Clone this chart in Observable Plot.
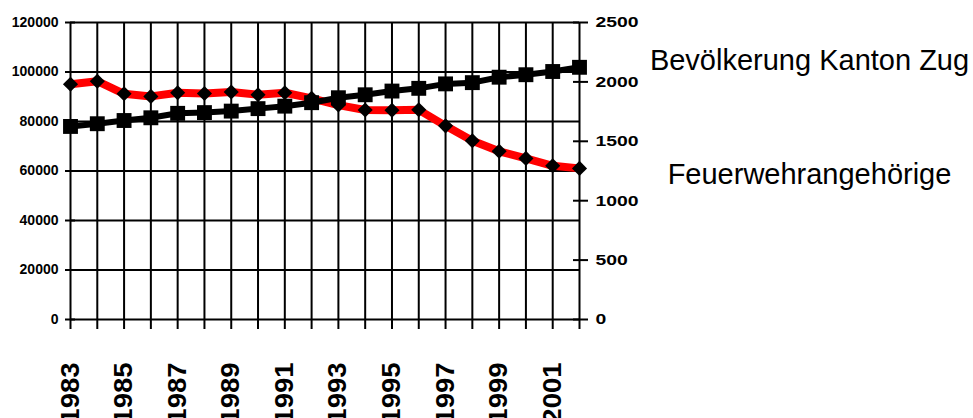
<!DOCTYPE html>
<html><head><meta charset="utf-8">
<script src="https://cdn.jsdelivr.net/npm/d3@7"></script>
<script src="https://cdn.jsdelivr.net/npm/@observablehq/plot@0.6"></script>
<style>
html,body{margin:0;padding:0;background:#fff;}
svg{display:block;}
</style></head><body><div id="chart"></div>
<script>
const years = [1983,1984,1985,1986,1987,1988,1989,1990,1991,1992,1993,1994,1995,1996,1997,1998,1999,2000,2001,2002];
const population = [78000,79100,80400,81500,83300,83600,84200,85200,86200,87600,89600,90800,92300,93400,95200,95700,97900,98900,100200,101900];
const firefighters = [1980,2006,1900,1878,1909,1903,1915,1892,1909,1862,1805,1763,1762,1765,1630,1505,1416,1356,1294,1272];
const leftTicks = [0,20000,40000,60000,80000,100000,120000];
const rightTicks = [0,500,1000,1500,2000,2500];
const yearLabels = [1983,1985,1987,1989,1991,1993,1995,1997,1999,2001];
const seriesNames = ["Bevölkerung Kanton Zug", "Feuerwehrangehörige"];

const k = d3.max(leftTicks) / d3.max(rightTicks);
const rows = years.map((year, i) => ({year, pop: population[i], fw: firefighters[i]}));
const fmt = d3.format("d");
const font = '"Liberation Sans", Arial, sans-serif';

const chart = Plot.plot({
  width: 973, height: 418,
  marginLeft: 70, marginRight: 394, marginTop: 22, marginBottom: 99,
  style: {fontFamily: font, background: "white", color: "black"},
  x: {type: "linear", domain: [years[0], years[years.length - 1]]},
  y: {domain: [0, d3.max(leftTicks)]},
  marks: [
    Plot.gridY(leftTicks, {stroke: "black", strokeOpacity: 1, strokeWidth: 2}),
    Plot.gridX(years, {stroke: "black", strokeOpacity: 1, strokeWidth: 2}),
    Plot.axisY({ticks: leftTicks, tickSize: 5, tickPadding: 7, fontSize: 14, fontWeight: "bold", tickFormat: fmt, strokeWidth: 2, label: null}),
    Plot.axisY({ticks: leftTicks, tickSize: 5, dx: 5, tickFormat: () => "", strokeWidth: 2, label: null}),
    Plot.axisY({anchor: "right", ticks: rightTicks.map(v => v * k), tickFormat: d => fmt(d / k), tickSize: 8, tickPadding: 8, fontSize: 15.5, fontWeight: "bold", strokeWidth: 2, label: null}),
    Plot.axisY({anchor: "right", ticks: rightTicks.map(v => v * k), tickSize: 7, dx: -7, tickFormat: () => "", strokeWidth: 2, label: null}),
    Plot.axisX({ticks: years, tickSize: 10, tickFormat: () => "", strokeWidth: 2, label: null}),
    Plot.axisX({ticks: yearLabels, tickSize: 0, tickPadding: 43, tickRotate: -90, tickFormat: fmt, fontSize: 25, fontWeight: "bold", label: null}),
    Plot.line(rows, {x: "year", y: d => d.fw * k, stroke: "#ff0000", strokeWidth: 8}),
    Plot.line(rows, {x: "year", y: "pop", stroke: "black", strokeWidth: 6}),
    Plot.dot(rows, {x: "year", y: d => d.fw * k, symbol: "diamond2", r: 6.8, fill: "black"}),
    Plot.dot(rows, {x: "year", y: "pop", symbol: "square", r: 8.4, fill: "black"}),
    Plot.text([seriesNames[0]], {frameAnchor: "top-right", text: d => d, dx: 230, dy: 27, fontSize: 29, textAnchor: "middle", fill: "black"}),
    Plot.text([seriesNames[1]], {frameAnchor: "top-right", text: d => d, dx: 230, dy: 141, fontSize: 29, textAnchor: "middle", fill: "black"})
  ]
});
document.getElementById("chart").appendChild(chart);

// horizontal stretch of tick labels as in the reference
chart.querySelectorAll('g[aria-label="y-axis tick label"]').forEach(g => {
  if (g.getAttribute("text-anchor") === "start") {
    g.querySelectorAll("text").forEach(t => t.setAttribute("transform", (t.getAttribute("transform") || "") + " scale(1.25,1)"));
  }
});
chart.querySelectorAll('g[aria-label="x-axis tick label"] text').forEach(t => {
  if (t.textContent) t.setAttribute("transform", (t.getAttribute("transform") || "") + " scale(1.1,1)");
});
</script>
</body></html>
